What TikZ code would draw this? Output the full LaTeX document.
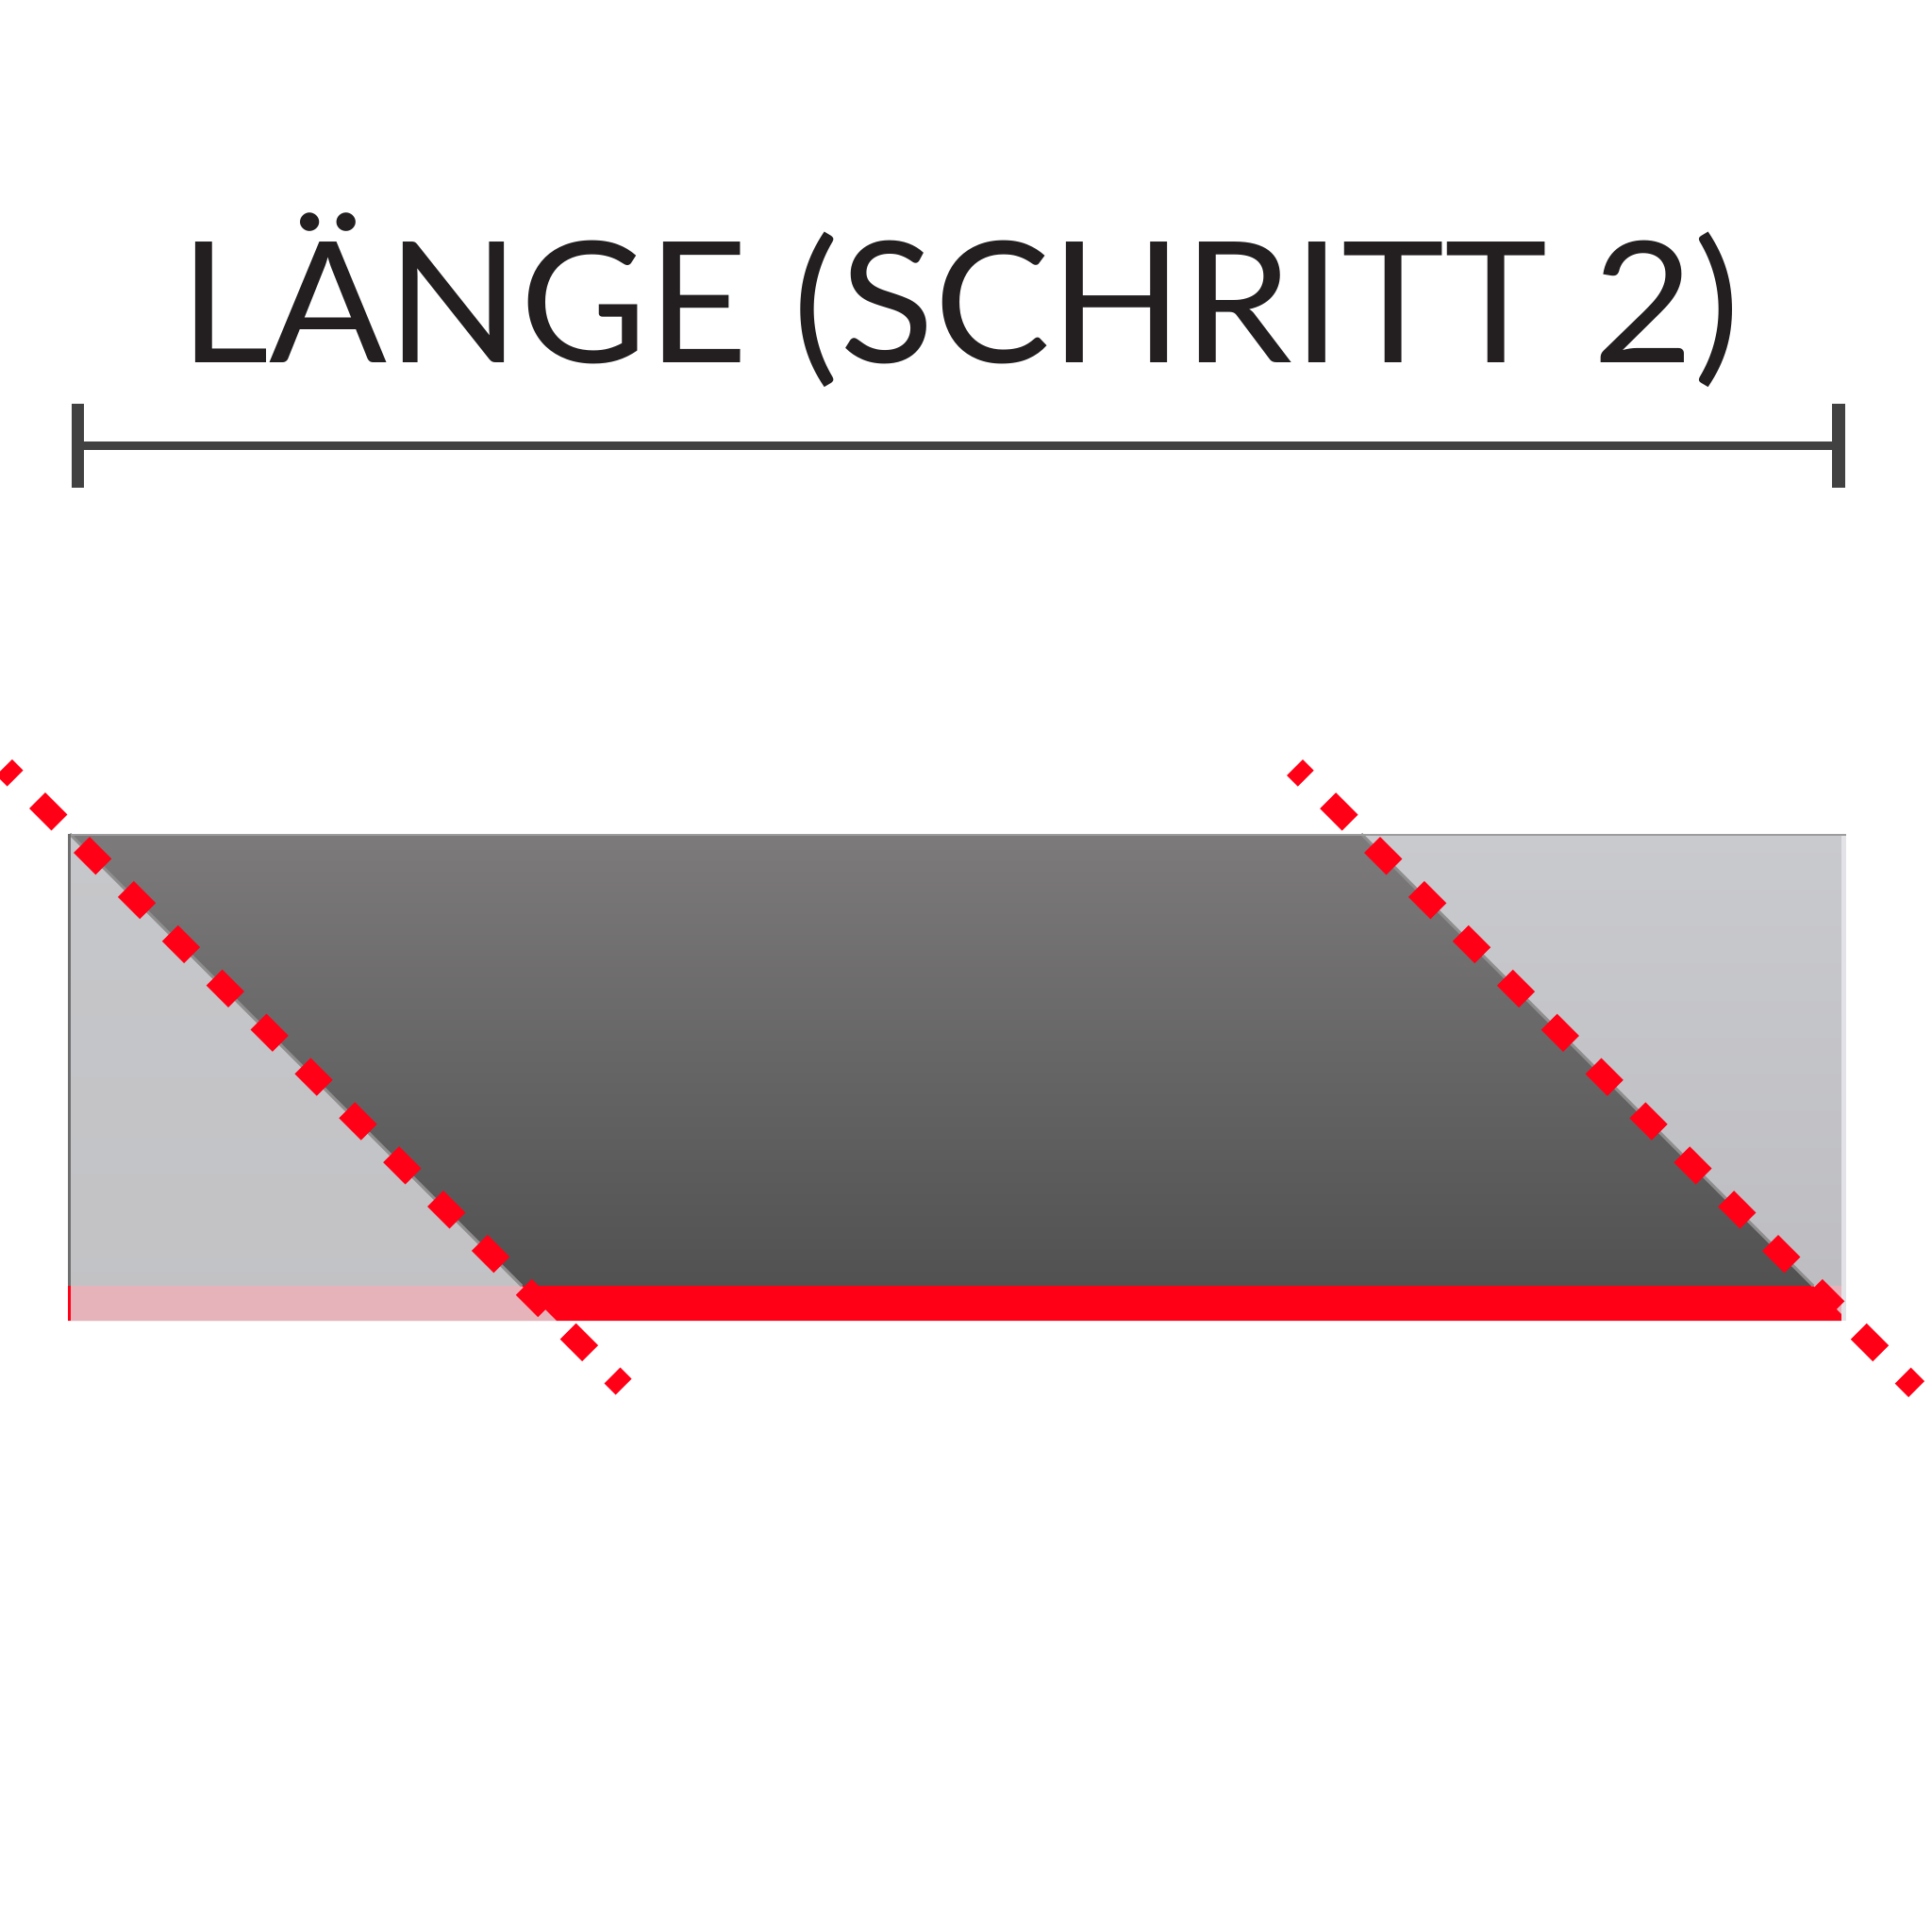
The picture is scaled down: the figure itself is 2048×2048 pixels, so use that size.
\documentclass[tikz,border=0pt]{standalone}
\usepackage{fontspec}
\setmainfont{Lato}
\usepackage{graphicx}
\definecolor{txt}{HTML}{231F20}
\definecolor{dim}{HTML}{414141}
\definecolor{darktop}{HTML}{7C7A7B}
\definecolor{darkbot}{HTML}{4E4E4E}
\definecolor{lighttopL}{HTML}{C6C7CA}
\definecolor{lightbotL}{HTML}{C2C2C5}
\definecolor{lighttopR}{HTML}{C9CACD}
\definecolor{lightbotR}{HTML}{BDBDC1}
\definecolor{bandred}{HTML}{FF0016}
\definecolor{bandpink}{HTML}{E6B3BA}
\definecolor{edgegray}{HTML}{8E8E8E}
\definecolor{leftedge}{HTML}{6E6E6E}
\definecolor{topedge}{HTML}{9C9C9C}
\definecolor{rightstrip}{HTML}{E2E2E7}
\begin{document}
\begin{tikzpicture}[x=1pt,y=-1pt,
  dimbar/.style={fill=dim},
  cutline/.style={draw=bandred,line width=24pt,dash pattern=on 33pt off 33.3pt},
  diagline/.style={draw=edgegray,line width=3pt},
  titletext/.style={text=txt,inner sep=0pt,anchor=base west}]
\clip (0,0) rectangle (2048,2048);
\fill[white] (0,0) rectangle (2048,2048);
% title
\node[titletext] (title) at (190.5,384) {\resizebox{1653pt}{\height}{\fontsize{178.6pt}{180pt}\selectfont LÄNGE (SCHRITT 2)}};
% dimension line
\coordinate (dl) at (82.5,472);
\coordinate (dr) at (1949,472);
\draw[dim,line width=9pt] (dl) -- (dr);
\fill[dimbar] (75.7,428) rectangle (89.3,517);
\fill[dimbar] (1942,428) rectangle (1955.7,517);
% light regions
\shade[top color=lighttopL,bottom color=lightbotL] (72,884) -- (590,1400) -- (72,1400) -- cycle;
\shade[top color=lighttopR,bottom color=lightbotR] (1443,884) -- (1952,884) -- (1952,1393) -- cycle;
% dark parallelogram
\shade[top color=darktop,bottom color=darkbot] (74,884) -- (1443,884) -- (1952,1393) -- (1952,1400) -- (590,1400) -- cycle;
% band
\fill[bandred] (72,1363) rectangle (1952,1400);
\fill[bandpink] (72,1363) -- (553,1363) -- (590,1400) -- (72,1400) -- cycle;
\fill[bandpink] (1922,1363) -- (1952,1363) -- (1952,1393) -- cycle;
% edges
\draw[diagline] (74,884) -- (553,1363);
\draw[diagline] (1443,884) -- (1922,1363);
\fill[rightstrip] (1952,884) rectangle (1957,1400);
\draw[topedge,line width=2pt] (72,885) -- (1957,885);
\draw[leftedge,line width=3pt] (73.5,884) -- (73.5,1363);
\draw[bandred,line width=3pt] (73.5,1363) -- (73.5,1400);
% red dashed cut lines
\coordinate (la) at (4.4,813.4);
\coordinate (lb) at (661,1470);
\coordinate (ra) at (1372.5,813.5);
\coordinate (rb) at (2031.5,1472.5);
\draw[cutline,dash phase=16.5pt] (la) -- (lb);
\draw[cutline,dash phase=16.5pt] (ra) -- (rb);
\end{tikzpicture}
\end{document}
